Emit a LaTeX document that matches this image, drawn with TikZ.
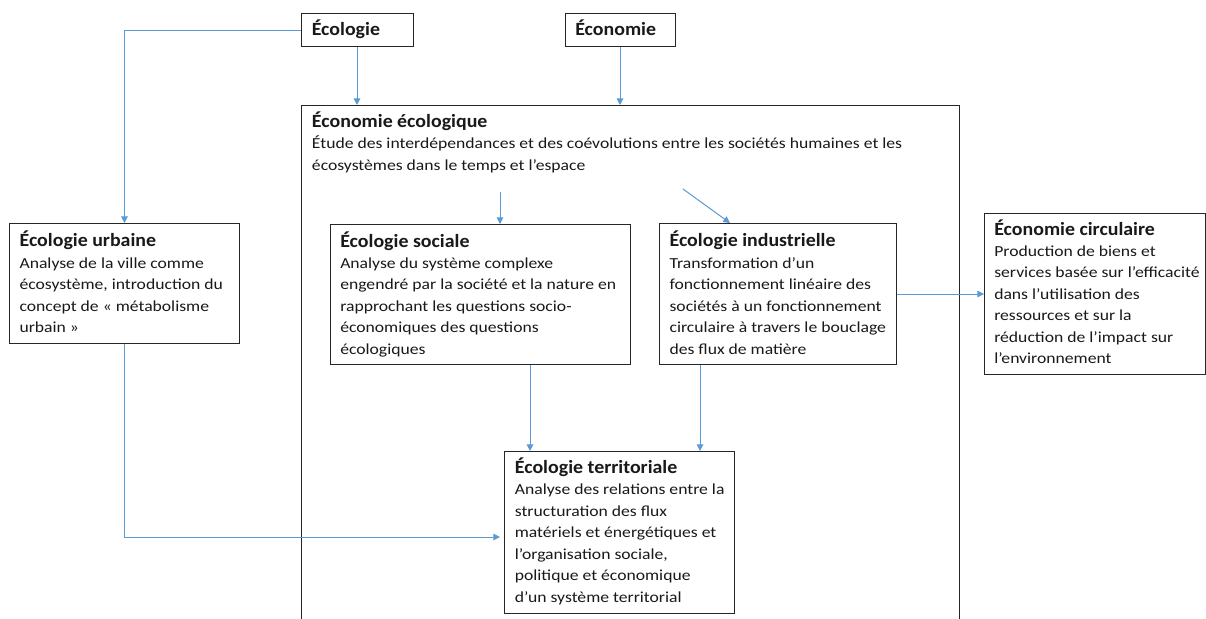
\documentclass[tikz,border=0pt]{standalone}
\usepackage{fontspec}
\setmainfont{Carlito}[FakeStretch=1.15]
\newfontfamily\titlef{Carlito}[FakeStretch=1.065]
\usetikzlibrary{arrows.meta,calc}
\newcommand\boxtext[3]{\begin{minipage}[t]{#1}\raggedright{\titlef\fontsize{14}{16.1}\selectfont\bfseries #2}\\\fontsize{11.5}{16.1}\selectfont #3\end{minipage}}
\newcommand\toptext[1]{{\titlef\fontsize{14}{16.1}\selectfont\bfseries #1}}
\tikzset{
  frame/.style 2 args={draw=black!85, line width=0.75pt, anchor=north west, inner sep=0pt,
    minimum width=#1*0.75pt, minimum height=#2*0.75pt},
  txt/.style={anchor=base west, inner sep=0pt, text=black!90},
  conn/.style={draw={rgb,255:red,91;green,155;blue,213}, line width=0.75pt,
    -{Triangle[length=5pt,width=5pt]}}
}
\begin{document}
\begin{tikzpicture}[x=0.75pt,y=-0.75pt]
\useasboundingbox (0,0) rectangle (1206,618);
\clip (0,0) rectangle (1206,618);
\fill[white] (0,0) rectangle (1206,618);
% frames
\node[frame={112}{33}] (ecol) at (300.5,13) {};
\node[frame={110}{33}] (econ) at (564.5,13) {};
\node[frame={658}{600}] (big) at (301,105) {};
\node[frame={230}{120}] (urb) at (9,223) {};
\node[frame={300}{140}] (soc) at (330,224) {};
\node[frame={237}{141}] (ind) at (659,223) {};
\node[frame={221}{161}] (circ) at (984,213) {};
\node[frame={230}{162}] (terr) at (504,451) {};
% texts
\node[txt] (ecol-t) at (311.5,35) {\toptext{Écologie}};
\node[txt] (econ-t) at (575,35) {\toptext{Économie}};
\node[txt] (big-t) at (311.7,127.5) {\boxtext{480pt}{Économie écologique}{Étude des interdépendances et des coévolutions entre les sociétés humaines et les\\écosystèmes dans le temps et l’espace}};
\node[txt] (urb-t) at (19.3,246.7) {\boxtext{180pt}{Écologie urbaine}{Analyse de la ville comme\\écosystème, introduction du\\concept de « métabolisme\\urbain »}};
\node[txt] (soc-t) at (340,247) {\boxtext{240pt}{Écologie sociale}{Analyse du système complexe\\engendré par la société et la nature en\\rapprochant les questions socio-\\économiques des questions\\écologiques}};
\node[txt] (ind-t) at (669.3,246.7) {\boxtext{190pt}{Écologie industrielle}{Transformation d’un\\fonctionnement linéaire des\\sociétés à un fonctionnement\\circulaire à travers le bouclage\\des flux de matière}};
\node[txt] (circ-t) at (994,235) {\boxtext{175pt}{Économie circulaire}{Production de biens et\\services basée sur l’efficacité\\dans l’utilisation des\\ressources et sur la\\réduction de l’impact sur\\l’environnement}};
\node[txt] (terr-t) at (514.6,473.3) {\boxtext{180pt}{Écologie territoriale}{Analyse des relations entre la\\structuration des flux\\matériels et énergétiques et\\l’organisation sociale,\\politique et économique\\d’un système territorial}};
% connectors
\coordinate (c1) at (500,192);
\coordinate (c2) at (683,189);
\draw[conn] (ecol.south) -- (ecol.south |- big.north);
\draw[conn] (econ.south) -- (econ.south |- big.north);
\draw[conn] (ecol.west) -| (urb.north);
\draw[conn] (c1) -- (c1 |- soc.north);
\draw[conn] (c2) -- ($(ind.north west)+(71,0)$);
\draw[conn] ($(soc.south west)+(200,0)$) -- ($(terr.north west)+(26,0)$);
\draw[conn] ($(ind.south west)+(41,0)$) -- ($(terr.north west)+(196,0)$);
\draw[conn] (urb.south) |- ($(terr.north west)+(-4,86)$);
\draw[conn] (ind.east) -- (ind.east -| circ.west);
\end{tikzpicture}
\end{document}
